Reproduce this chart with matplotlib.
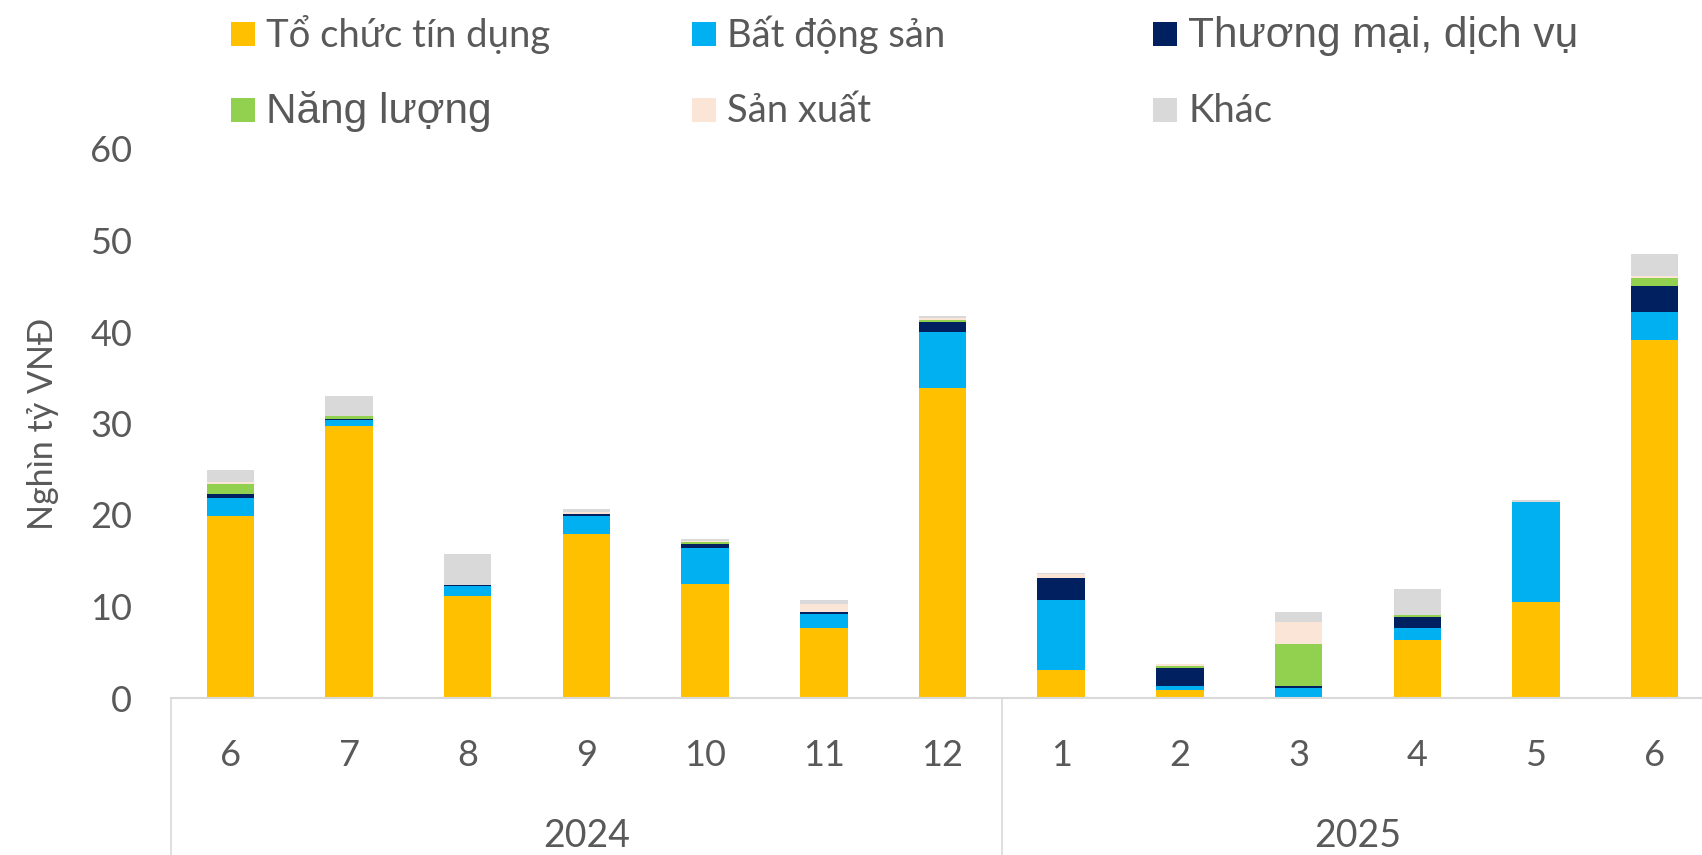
import matplotlib
matplotlib.use("Agg")
import matplotlib.pyplot as plt
import matplotlib.transforms as mtransforms
from matplotlib.patches import Rectangle
import numpy as np

# data (nghìn tỷ VNĐ)
months = ["6", "7", "8", "9", "10", "11", "12", "1", "2", "3", "4", "5", "6"]
years = ["2024", "2025"]
year_counts = [7, 6]

series_names = ["Tổ chức tín dụng", "Bất động sản", "Thương mại, dịch vụ",
                "Năng lượng", "Sản xuất", "Khác"]
to_chuc_tin_dung = [19.9, 29.7, 11.2, 17.9, 12.5, 7.7, 33.9, 3.1, 0.9, 0.0, 6.3, 10.5, 39.1]
bat_dong_san = [2.0, 0.7, 1.0, 2.0, 3.9, 1.5, 6.1, 7.6, 0.4, 1.1, 1.3, 10.9, 3.1]
thuong_mai = [0.4, 0.05, 0.2, 0.2, 0.4, 0.2, 1.1, 2.4, 2.0, 0.2, 1.3, 0.0, 2.8]
nang_luong = [1.1, 0.4, 0.0, 0.0, 0.2, 0.0, 0.2, 0.0, 0.2, 4.6, 0.2, 0.0, 0.9]
san_xuat = [0.2, 0.0, 0.0, 0.2, 0.2, 0.9, 0.2, 0.4, 0.2, 2.4, 0.0, 0.0, 0.2]
khac = [1.3, 2.2, 3.3, 0.4, 0.2, 0.4, 0.3, 0.2, 0.0, 1.1, 2.8, 0.2, 2.4]

colors = ["#FFC000", "#00B0F0", "#002060", "#92D050", "#FBE5D6", "#D9D9D9"]
text_color = "#595959"
grid_color = "#D9D9D9"

W, H = 1702, 855
fig = plt.figure(figsize=(W / 100, H / 100), dpi=100)
# axes runs slightly past the right edge, like the cropped original
ax = fig.add_axes([171 / W, 1 - 698 / H, 1543 / W, 549 / H])

x = np.arange(len(months))
bottom = np.zeros(len(months))
for vals, c in zip([to_chuc_tin_dung, bat_dong_san, thuong_mai, nang_luong, san_xuat, khac], colors):
    ax.bar(x, vals, width=0.4, bottom=bottom, color=c, linewidth=0)
    bottom += np.array(vals)

ax.set_xlim(-0.5, 12.5)
ax.set_ylim(0, 60)
for s in ["left", "right", "top"]:
    ax.spines[s].set_visible(False)
ax.spines["bottom"].set_color(grid_color)
ax.spines["bottom"].set_linewidth(1.5)

ax.set_yticks(range(0, 61, 10))
ax.tick_params(axis="y", length=0, pad=28, labelsize=26, labelcolor=text_color)
for lab in ax.get_yticklabels():
    lab.set_family(["Lato", "Noto Sans"])
ax.set_xticks([])

trans = mtransforms.blended_transform_factory(ax.transData, ax.transAxes)
for i, m in enumerate(months):
    ax.text(i, -57 / 549, m, transform=trans, ha="center", va="center",
            fontsize=26, color=text_color, family=["Lato", "Noto Sans"])

start = -0.5
for yr, n in zip(years, year_counts):
    ax.plot([start, start], [0, -157 / 549], transform=trans, clip_on=False,
            color=grid_color, lw=1.2)
    ax.text(start + n / 2, -138 / 549, yr, transform=trans, ha="center", va="center",
            fontsize=27, color=text_color, family=["Lato", "Noto Sans"])
    start += n

fig.text(43 / W, 1 - 424 / H, "Nghìn tỷ VNĐ", rotation=90, ha="center", va="center",
         fontsize=24.5, color=text_color, family=["Lato", "Noto Sans"])

# legend laid out on the same grid as the original
leg_x = [231, 692, 1153]
leg_base = [46.5, 122.5]
lato = ["Lato", "Noto Sans"]
arial = ["Liberation Sans", "DejaVu Sans"]
leg_fonts = [(lato, 27.5), (lato, 27.5), (arial, 30.5),
             (arial, 30.5), (lato, 27.5), (lato, 27.5)]
for i, (name, c) in enumerate(zip(series_names, colors)):
    px = leg_x[i % 3]
    py = leg_base[i // 3]
    fig.add_artist(Rectangle((px / W, 1 - py / H), 24 / W, 24 / H,
                             transform=fig.transFigure, color=c, lw=0))
    fam, fs = leg_fonts[i]
    fig.text((px + 35) / W, 1 - py / H, name, ha="left", va="baseline",
             fontsize=fs, color=text_color, family=fam)

fig.savefig("out.png", dpi=100)
